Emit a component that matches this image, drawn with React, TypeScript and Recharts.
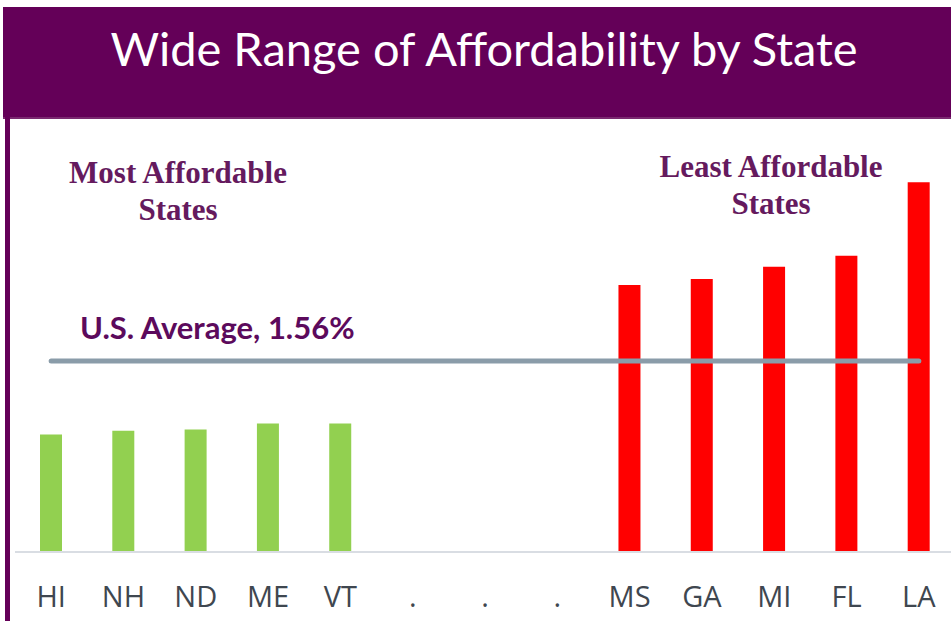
import React from 'react';
import { BarChart, Bar, XAxis, YAxis, ReferenceLine, Cell } from 'recharts';

const states = ['HI', 'NH', 'ND', 'ME', 'VT', '.1', '.2', '.3', 'MS', 'GA', 'MI', 'FL', 'LA'];
const rates = [0.96, 0.99, 1.0, 1.05, 1.05, null, null, null, 2.18, 2.23, 2.33, 2.42, 3.02];
const groups = ['most', 'most', 'most', 'most', 'most', 'gap', 'gap', 'gap', 'least', 'least', 'least', 'least', 'least'];
const usAverage = 1.56;

const data = states.map((s, i) => ({ state: s, rate: rates[i], group: groups[i] }));

const PURPLE = '#640058';
const TEXT_PURPLE = '#651a5e';

export default function App() {
  return (
    <div style={{ position: 'absolute', left: 0, top: 0, width: 951, height: 621, overflow: 'hidden', background: '#fff' }}>
      <div style={{ position: 'absolute', left: 3, top: 7, width: 948, height: 110, background: PURPLE, borderBottom: '2px solid #7a2a70' }} />
      <div style={{ position: 'absolute', left: 5, top: 117, width: 5, height: 504, background: PURPLE }} />
      <div style={{ position: 'absolute', left: 0, top: 0 }}>
        <BarChart
          width={960}
          height={621}
          data={data}
          margin={{ top: 123.5, right: 5, left: 15, bottom: 9 }}
          barSize={22}
        >
          <XAxis
            dataKey="state"
            height={60}
            tickLine={false}
            axisLine={{ stroke: '#d9dde3', strokeWidth: 2 }}
            tickMargin={28}
            interval={0}
            tickFormatter={(v: string) => (v.startsWith('.') ? '.' : v)}
            tick={{ fill: '#3f4750', fontSize: 29, fontFamily: 'Open Sans' }}
          />
          <YAxis hide domain={[0, 3.5]} />
          <Bar dataKey="rate" isAnimationActive={false}>
            {data.map((d) => (
              <Cell key={d.state} fill={d.group === 'most' ? '#92d050' : '#ff0000'} />
            ))}
          </Bar>
          <ReferenceLine
            segment={[{ x: 'HI', y: usAverage }, { x: 'LA', y: usAverage }]}
            stroke="#8a9ca9"
            strokeWidth={5}
            strokeLinecap="round"
          />
        </BarChart>
      </div>
      <svg width={951} height={621} style={{ position: 'absolute', left: 0, top: 0, pointerEvents: 'none' }}>
        <text x={484} y={66} textAnchor="middle" fill="#fff" fontFamily="Lato" fontSize={47}>
          Wide Range of Affordability by State
        </text>
        <g fontFamily="Liberation Serif" fontWeight="bold" fontSize={31} fill={TEXT_PURPLE} textAnchor="middle">
          <text x={178} y={183}>Most Affordable</text>
          <text x={178} y={220}>States</text>
          <text x={771} y={177}>Least Affordable</text>
          <text x={771} y={214}>States</text>
        </g>
        <text x={80} y={339} fontFamily="Lato" fontWeight="bold" fontSize={31} fill="#5c0a5c">
          U.S. Average, 1.56%
        </text>
      </svg>
    </div>
  );
}
